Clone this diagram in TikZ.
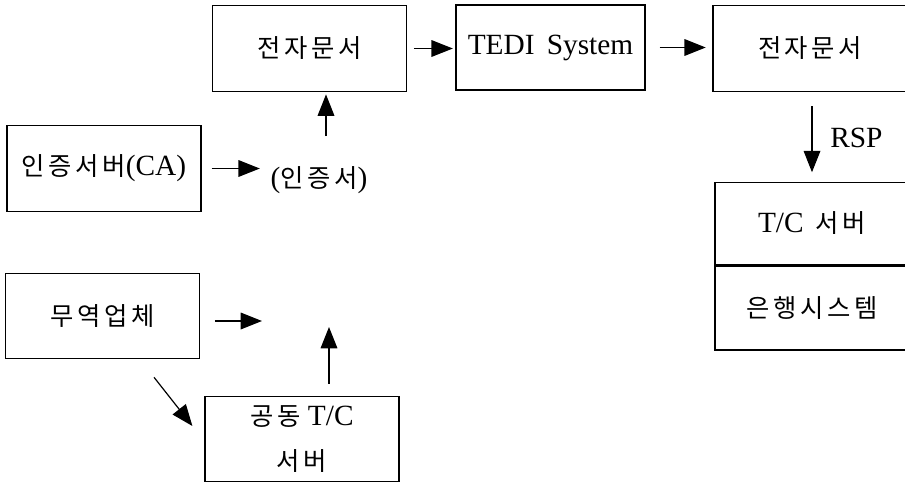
\documentclass[tikz,border=0pt]{standalone}
\usepackage{fontspec}
\setmainfont{Liberation Serif}
\newfontfamily\kr[LetterSpace=14]{Noto Sans CJK KR}
\usetikzlibrary{arrows.meta,calc,positioning}
\newcommand\hg[1]{{\kr\fontsize{19}{23}\selectfont #1}}

\tikzset{
  box/.style={draw, line width=0.9pt, inner sep=0pt, minimum width=145.5pt,
    minimum height=64pt, font=\fontsize{22}{27}\selectfont},
  lbl/.style={inner sep=0pt, font=\fontsize{22}{27}\selectfont},
  arr/.style={line width=0.9pt, -{Triangle[length=16pt,width=12.5pt]}}
}

\begin{document}
\begin{tikzpicture}[x=0.75pt, y=-0.75pt]
  %%%%% START %%%%%
  \useasboundingbox (0,0) rectangle (905,482);

  \node[box] (doc1) at (309.5,48.5) {\hg{전자문서}};
  \node[box, line width=1.8pt, minimum width=141.75pt] (tedi) at (550.5,47.5) {TEDI\, System};
  \node[box] (doc2) at (810,48.5) {\hg{전자문서}};

  \node[box, minimum height=62pt] (tc) at (812,223.5) {T/C\, \hg{서버}};
  \node[box, minimum height=63pt, below=0pt of tc] (bank) {\hg{은행시스템}};
  \node[lbl, anchor=west] (rsp) at (830,138) {RSP};

  \node[box] (ca) at (104,168.5) {\hg{인증서버}(CA)};
  \node[lbl] (cert) at (319,180) {(\hg{인증서})};

  \node[box] (trade) at (102.5,316) {\hg{무역업체}};
  \node[box, align=center] (joint) at (302,439) {\hg{공동} T/C\\[7pt]\hg{서버}};

  \coordinate (certtop) at (326,136);
  \coordinate (tradeend) at (262,321);
  \coordinate (jointtop) at (329,327);

  % top row
  \draw[arr, shorten <=5pt, shorten >=1.5pt] (doc1.east) -- (doc1.east -| tedi.west);
  \draw[arr, shorten <=10pt, shorten >=5pt] (tedi.east) -- (tedi.east -| doc2.west);
  \draw[arr, shorten <=11pt, shorten >=7pt] (doc2.south -| tc.north) -- (tc.north);

  % certificate
  \draw[arr, shorten <=7.5pt, shorten >=8pt] (ca.east) -- (ca.east -| cert.west);
  \draw[arr, shorten >=2pt] (certtop) -- (certtop |- doc1.south);

  % trader
  \draw[arr, shorten <=11pt] (trade.east |- tradeend) -- (tradeend);
  \draw[arr, shorten <=9pt] (joint.north -| jointtop) -- (jointtop);
  \draw[arr] ($(trade.south)+(51.5,18)$) -- ($(joint.west)+(-12,-13)$);
  %%%%% END %%%%%
\end{tikzpicture}
\end{document}
